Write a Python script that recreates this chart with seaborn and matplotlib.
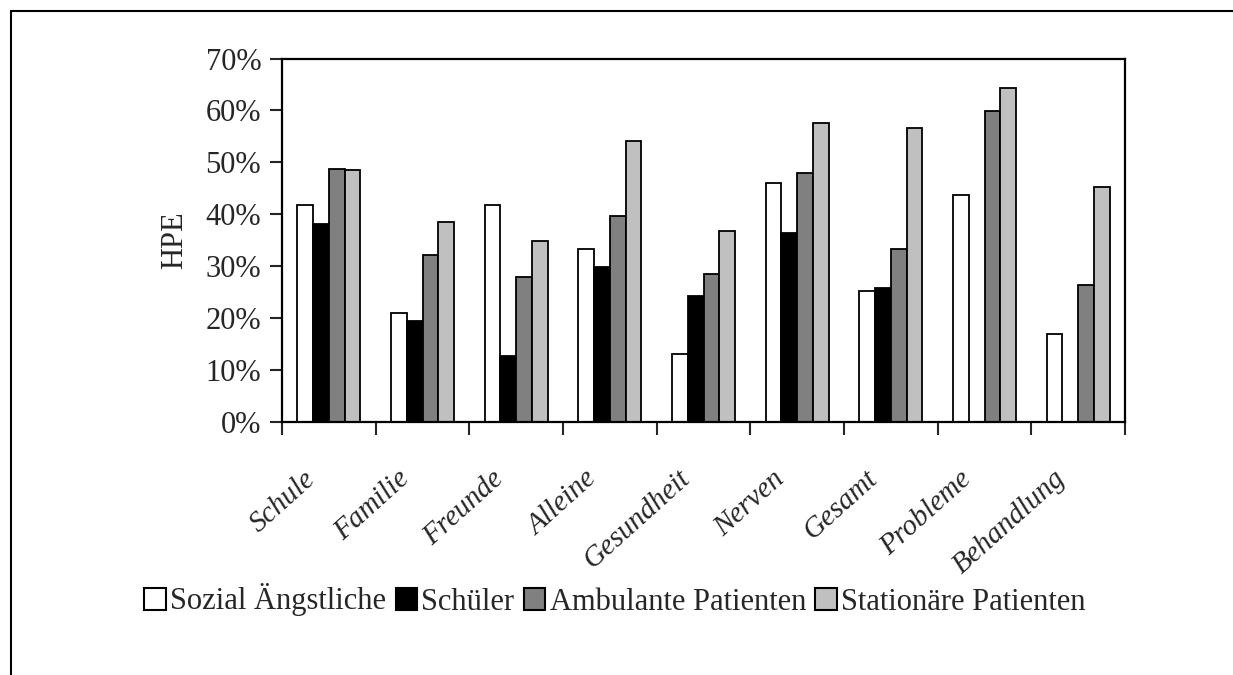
import numpy as np
import pandas as pd
import matplotlib
matplotlib.use("Agg")
import matplotlib.pyplot as plt
import seaborn as sns
from matplotlib.patches import Rectangle, Patch
from matplotlib.ticker import PercentFormatter

# HPE scores per situation (percent)
categories = ["Schule", "Familie", "Freunde", "Alleine", "Gesundheit",
              "Nerven", "Gesamt", "Probleme", "Behandlung"]
groups = ["Sozial Ängstliche", "Schüler", "Ambulante Patienten", "Stationäre Patienten"]
sozial_aengstliche = [41.8, 20.9, 41.8, 33.3, 13.1, 46.0, 25.2, 43.7, 16.9]
schueler = [38.1, 19.5, 12.7, 29.8, 24.3, 36.3, 25.9, np.nan, np.nan]
ambulante_patienten = [48.7, 32.1, 28.0, 39.6, 28.5, 47.9, 33.3, 59.9, 26.4]
stationaere_patienten = [48.5, 38.6, 34.9, 54.1, 36.7, 57.5, 56.6, 64.4, 45.3]
yticks = [0, 10, 20, 30, 40, 50, 60, 70]

colors = ["#ffffff", "#000000", "#808080", "#c0c0c0"]

df = pd.DataFrame({
    "Kategorie": categories * 4,
    "Gruppe": [g for g in groups for _ in categories],
    "HPE": sozial_aengstliche + schueler + ambulante_patienten + stationaere_patienten,
}).dropna()

sns.set_style("white")
plt.rcParams["font.family"] = ["Liberation Serif", "DejaVu Serif"]

W, H = 1233, 675
fig = plt.figure(figsize=(W / 100, H / 100), dpi=100)
ax = fig.add_axes([282 / W, 1 - 422 / H, (1125 - 282) / W, (422 - 58.5) / H])

sns.barplot(data=df, x="Kategorie", y="HPE", hue="Gruppe",
            order=categories, hue_order=groups, palette=colors,
            saturation=1, width=0.67, gap=0, errorbar=None,
            edgecolor="black", linewidth=1.3, ax=ax)

if ax.get_legend() is not None:
    ax.get_legend().remove()

ax.set_ylim(0, 70)
ax.set_xlim(-0.5, len(categories) - 0.5)
ax.set_yticks(yticks)
ax.yaxis.set_major_formatter(PercentFormatter(decimals=0))
ax.set_ylabel("HPE", fontsize=22, labelpad=12)
ax.set_xlabel("")

# tick marks sit between the categories
ax.set_xticks(np.arange(-0.5, len(categories), 1.0))
ax.set_xticklabels([])
ax.tick_params(axis="x", which="major", length=9, width=1.5, direction="out", bottom=True)
ax.tick_params(axis="y", length=9, width=1.5, direction="out", left=True, labelsize=22, pad=6)
for i, name in enumerate(categories):
    ax.text(i - 0.27, -0.12, name, transform=ax.get_xaxis_transform(),
            rotation=42, ha="right", va="top", rotation_mode="anchor",
            fontsize=21, fontstyle="italic")

for s in ax.spines.values():
    s.set_visible(True)
    s.set_linewidth(1.6)
    s.set_color("black")

handles = [Patch(facecolor=c, edgecolor="black", linewidth=1.5) for c in colors]
fig.legend(handles, groups, loc="center", bbox_to_anchor=(615 / W, 1 - 600 / H),
           ncol=4, frameon=False, fontsize=22, handlelength=0.7, handleheight=0.75,
           handletextpad=0.15, columnspacing=0.3)

# outer frame
fig.add_artist(Rectangle((11 / W, -0.2), 1.5, 1 - 11 / H + 0.2,
                         transform=fig.transFigure, fill=False,
                         edgecolor="black", linewidth=1.5))

fig.savefig("out.png", dpi=100)
